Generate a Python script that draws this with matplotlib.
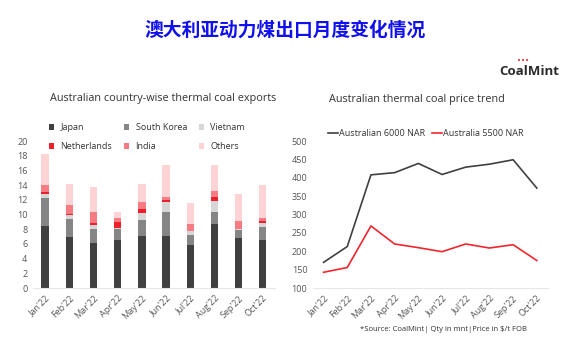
import matplotlib.pyplot as plt
import numpy as np

# Données
months = ["Jan'22", "Feb'22", "Mar'22", "Apr'22", "May'22", "Jun'22",
          "Jul'22", "Aug'22", "Sep'22", "Oct'22"]
japan = [8.4, 7.0, 6.1, 6.55, 7.05, 7.05, 5.85, 8.7, 6.8, 6.6]
south_korea = [3.8, 2.45, 1.9, 1.45, 2.2, 3.35, 1.4, 1.7, 1.05, 1.65]
vietnam = [0.6, 0.5, 0.55, 0.15, 1.0, 1.25, 0.45, 1.4, 0.15, 0.65]
netherlands = [0.2, 0.1, 0.25, 0.9, 0.55, 0.3, 0.1, 0.6, 0.05, 0.2]
india = [1.0, 1.2, 1.5, 0.5, 0.95, 0.45, 0.85, 0.8, 1.1, 0.4]
others = [4.2, 2.9, 3.4, 0.85, 2.35, 4.3, 2.9, 3.5, 3.65, 4.5]

nar6000 = [170, 213, 408, 414, 439, 409, 429, 437, 449, 372]
nar5500 = [143, 156, 269, 220, 210, 199, 220, 209, 218, 175]

series = [('Japan', japan, '#404040'),
          ('South Korea', south_korea, '#858585'),
          ('Vietnam', vietnam, '#d6d6d6'),
          ('Netherlands', netherlands, '#ee1f2b'),
          ('India', india, '#f47c82'),
          ('Others', others, '#fdd3d6')]

plt.rcParams['font.family'] = ['Open Sans', 'DejaVu Sans']
txt = '#333333'
tick = '#555555'

fig = plt.figure(figsize=(5.72, 3.57), dpi=100)

# Titre principal
fig.text(0.499, 0.915, '澳大利亚动力煤出口月度变化情况', ha='center', va='center',
         fontsize=13.5, fontweight='bold', color='#1010ee',
         family=['Noto Sans CJK SC', 'DejaVu Sans'])
fig.text(0.977, 0.80, 'CoalMint', ha='right', va='center', fontsize=9.5,
         fontweight='bold', color='#2b2b2b')
fig.text(0.915, 0.829, '•••', ha='center', va='center', fontsize=5,
         color='#e8202a', family='DejaVu Sans')

# Graphique des exportations
ax1 = fig.add_axes([0.0577, 0.193, 0.423, 0.412])
x = np.arange(len(months))
bottom = np.zeros(len(months))
handles = []
for name, vals, col in series:
    b = ax1.bar(x, vals, 0.3, bottom=bottom, color=col, label=name)
    bottom += np.array(vals)
    handles.append(b)
ax1.set_xlim(-0.5, 9.5)
ax1.set_ylim(0, 20)
ax1.set_yticks(range(0, 21, 2))
ax1.set_xticks(x)
ax1.set_xticklabels(months, rotation=45, ha='right', rotation_mode='anchor')
ax1.tick_params(length=0, labelsize=6.5, colors=tick, pad=4)
for s in ['top', 'right', 'left']:
    ax1.spines[s].set_visible(False)
ax1.spines['bottom'].set_color('#e6e6e6')
fig.text(0.285, 0.725, 'Australian country-wise thermal coal exports',
         ha='center', va='center', fontsize=7.8, color=txt)
# ordre en lignes pour la légende
order = [0, 3, 1, 4, 2, 5]
fig.legend([handles[i] for i in order], [series[i][0] for i in order],
           ncol=3, loc='upper left', bbox_to_anchor=(0.085, 0.655), frameon=False,
           fontsize=6.5, handlelength=0.6, handleheight=0.6, handletextpad=0.7,
           columnspacing=1.3, labelspacing=1.1, labelcolor=txt,
           borderpad=0, borderaxespad=0)

# Graphique des prix
ax2 = fig.add_axes([0.547, 0.193, 0.411, 0.412])
ax2.plot(x, nar6000, color='#404040', lw=1.2, label='Australian 6000 NAR')
ax2.plot(x, nar5500, color='#f0262e', lw=1.2, label='Australia 5500 NAR')
ax2.set_xlim(-0.45, 9.47)
ax2.set_ylim(100, 500)
ax2.set_yticks(range(100, 501, 50))
ax2.set_xticks(x)
ax2.set_xticklabels(months, rotation=45, ha='right', rotation_mode='anchor')
ax2.tick_params(length=0, labelsize=6.5, colors=tick, pad=4)
for s in ['top', 'right', 'left']:
    ax2.spines[s].set_visible(False)
ax2.spines['bottom'].set_color('#e6e6e6')
fig.text(0.729, 0.72, 'Australian thermal coal price trend',
         ha='center', va='center', fontsize=7.8, color=txt)
fig.legend(*ax2.get_legend_handles_labels(), ncol=2, loc='center left',
           bbox_to_anchor=(0.573, 0.627), frameon=False,
           fontsize=6.5, handlelength=1.1, handletextpad=0.1, columnspacing=0.8,
           labelcolor=txt, borderpad=0, borderaxespad=0)

fig.text(0.776, 0.078, '*Source: CoalMint| Qty in mnt|Price in $/t FOB',
         ha='center', va='center', fontsize=5.5, color=txt)

plt.savefig('out.png', dpi=100)
